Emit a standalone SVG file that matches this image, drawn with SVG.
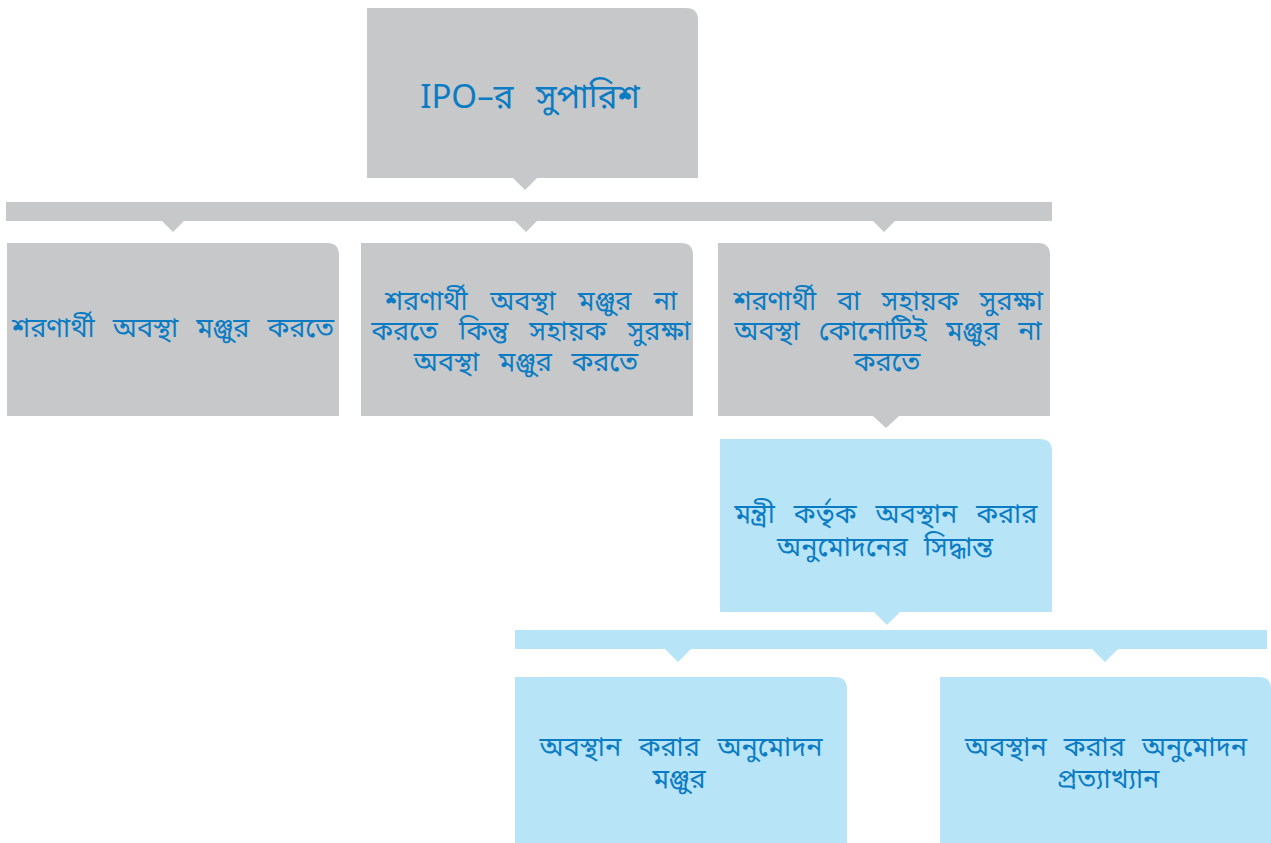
<svg xmlns="http://www.w3.org/2000/svg" width="1271" height="843" viewBox="0 0 1271 843">
<style>
.g{fill:#c7c8ca}
.b{fill:#b8e4f8}
text{font-family:"Noto Sans","Noto Sans Bengali","DejaVu Sans",sans-serif;fill:#0b7cc3;text-anchor:middle;font-size:27px}
.t{font-size:33px;word-spacing:14px}
</style>
<rect width="1271" height="843" fill="#ffffff"/>
<g id="connectors">
<path class="g" d="M367 178H698L537 178L525 190L513 178Z"/>
<path class="g" d="M6 202H1052V221H895L884 232L873 221H537L526 232L515 221H184L173 232L162 221H6Z"/>
<path class="g" d="M873 416H899L886 428Z"/>
<path class="b" d="M874 612H900L887 625Z"/>
<path class="b" d="M515 630H1267V649H1118L1105 662L1092 649H691L678 662L665 649H515Z"/>
</g>
<g id="node-ipo">
<path class="g" d="M367 8H686Q698 8 698 20V178H367Z"/>
<text class="t" x="530" y="108">IPO–র সুপারিশ</text>
</g>
<g id="node-refugee">
<path class="g" d="M7 243H327Q339 243 339 255V416H7Z"/>
<text x="173" y="337" word-spacing="11">শরণার্থী অবস্থা মঞ্জুর করতে</text>
</g>
<g id="node-subsidiary">
<path class="g" d="M361 243H681Q693 243 693 255V416H361Z"/>
<text x="531" y="310" word-spacing="15.5">শরণার্থী অবস্থা মঞ্জুর না</text>
<text x="531" y="340" word-spacing="14">করতে কিন্তু সহায়ক সুরক্ষা</text>
<text x="526" y="371" word-spacing="12.5">অবস্থা মঞ্জুর করতে</text>
</g>
<g id="node-neither">
<path class="g" d="M718 243H1038Q1050 243 1050 255V416H718Z"/>
<text x="888" y="310" word-spacing="14">শরণার্থী বা সহায়ক সুরক্ষা</text>
<text x="888" y="340" word-spacing="12">অবস্থা কোনোটিই মঞ্জুর না</text>
<text x="887" y="371">করতে</text>
</g>
<g id="node-minister">
<path class="b" d="M720 439H1040Q1052 439 1052 451V612H720Z"/>
<text x="886" y="523" word-spacing="12">মন্ত্রী কর্তৃক অবস্থান করার</text>
<text x="885" y="556" word-spacing="9">অনুমোদনের সিদ্ধান্ত</text>
</g>
<g id="node-granted">
<path class="b" d="M515 677H835Q847 677 847 689V843H515Z"/>
<text x="681" y="756" word-spacing="10.5">অবস্থান করার অনুমোদন</text>
<text x="679" y="788">মঞ্জুর</text>
</g>
<g id="node-refused">
<path class="b" d="M940 677H1259Q1271 677 1271 689V843H940Z"/>
<text x="1106" y="756" word-spacing="10">অবস্থান করার অনুমোদন</text>
<text x="1108" y="788">প্রত্যাখ্যান</text>
</g>
</svg>
